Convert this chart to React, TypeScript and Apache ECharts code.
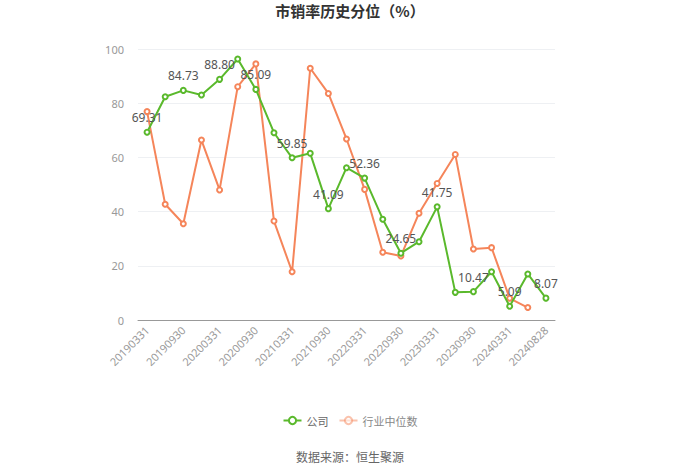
import React, { useEffect, useRef } from "react";
import * as echarts from "echarts";

const categories = [
  "20190331", "20190630", "20190930", "20191231",
  "20200331", "20200630", "20200930", "20201231",
  "20210331", "20210630", "20210930", "20211231",
  "20220331", "20220630", "20220930", "20221231",
  "20230331", "20230630", "20230930", "20231231",
  "20240331", "20240630", "20240828",
];

const companyValues = [
  69.31, 82.4, 84.73, 83.0, 88.8, 96.3, 85.09, 69.1,
  59.85, 61.5, 41.09, 56.2, 52.36, 37.2, 24.65, 28.9,
  41.75, 10.2, 10.47, 17.8, 5.09, 17.0, 8.07,
];

const industryValues: (number | null)[] = [
  76.9, 42.7, 35.5, 66.4, 48.0, 86.1, 94.5, 36.5,
  17.8, 92.9, 83.6, 66.8, 48.2, 25.0, 23.6, 39.4,
  50.4, 61.1, 26.2, 26.7, 8.0, 4.6, null,
];

const yTicks = [0, 20, 40, 60, 80, 100];

const GREEN = "#5ab92c";
const ORANGE = "#f5855a";

export default function App() {
  const ref = useRef<HTMLDivElement>(null);
  useEffect(() => {
    document.body.style.margin = "0";
    if (!ref.current) return;
    const chart = echarts.init(ref.current, undefined, { renderer: "svg" });
    chart.setOption({
      animation: false,
      title: {
        text: "市销率历史分位（%）",
        left: "center",
        top: 3,
        padding: 0,
        textStyle: { fontSize: 15, fontWeight: "bold", color: "#333", fontFamily: "Noto Sans CJK SC" },
      },
      legend: {
        top: 410,
        left: "center",
        itemWidth: 18,
        itemHeight: 9,
        itemGap: 10,
        textStyle: { color: "#666", fontSize: 11, fontFamily: "Noto Sans CJK SC" },
        data: [
          { name: "公司" },
          {
            name: "行业中位数",
            itemStyle: { opacity: 0.5 },
            lineStyle: { opacity: 0.5 },
            textStyle: { color: "#888" },
          },
        ],
      },
      graphic: [
        {
          type: "text",
          left: "center",
          top: 450,
          style: { text: "数据来源：恒生聚源", fill: "#666", fontSize: 12, fontFamily: "Noto Sans CJK SC" },
        },
      ],
      grid: { left: 138, right: 145, top: 49, bottom: 153, containLabel: false },
      xAxis: {
        type: "category",
        data: categories,
        boundaryGap: true,
        axisLine: { lineStyle: { color: "#999" } },
        axisTick: { alignWithLabel: true, interval: 1, lineStyle: { color: "#999" } },
        axisLabel: { interval: 1, rotate: 45, color: "#999", fontSize: 11, fontFamily: "Noto Sans" },
      },
      yAxis: {
        type: "value",
        min: yTicks[0],
        max: yTicks[yTicks.length - 1],
        interval: 20,
        axisLine: { show: false },
        axisTick: { show: false },
        axisLabel: { color: "#999", fontSize: 11, margin: 14, fontFamily: "Noto Sans" },
        splitLine: { lineStyle: { color: "#eef0f3" } },
      },
      series: [
        {
          name: "公司",
          type: "line",
          data: companyValues,
          symbol: "emptyCircle",
          symbolSize: 5,
          itemStyle: { color: GREEN },
          lineStyle: { width: 2, color: GREEN },
          z: 3,
          label: {
            show: true,
            position: "top",
            color: "#555",
            fontSize: 12,
            fontFamily: "Noto Sans",
            formatter: (p: any) => (p.dataIndex % 2 === 0 ? p.value.toFixed(2) : ""),
          },
        },
        {
          name: "行业中位数",
          type: "line",
          data: industryValues,
          symbol: "emptyCircle",
          symbolSize: 5,
          itemStyle: { color: ORANGE },
          lineStyle: { width: 2, color: ORANGE },
          z: 2,
        },
      ],
    });
    return () => chart.dispose();
  }, []);
  return <div ref={ref} style={{ width: 700, height: 473 }} />;
}
